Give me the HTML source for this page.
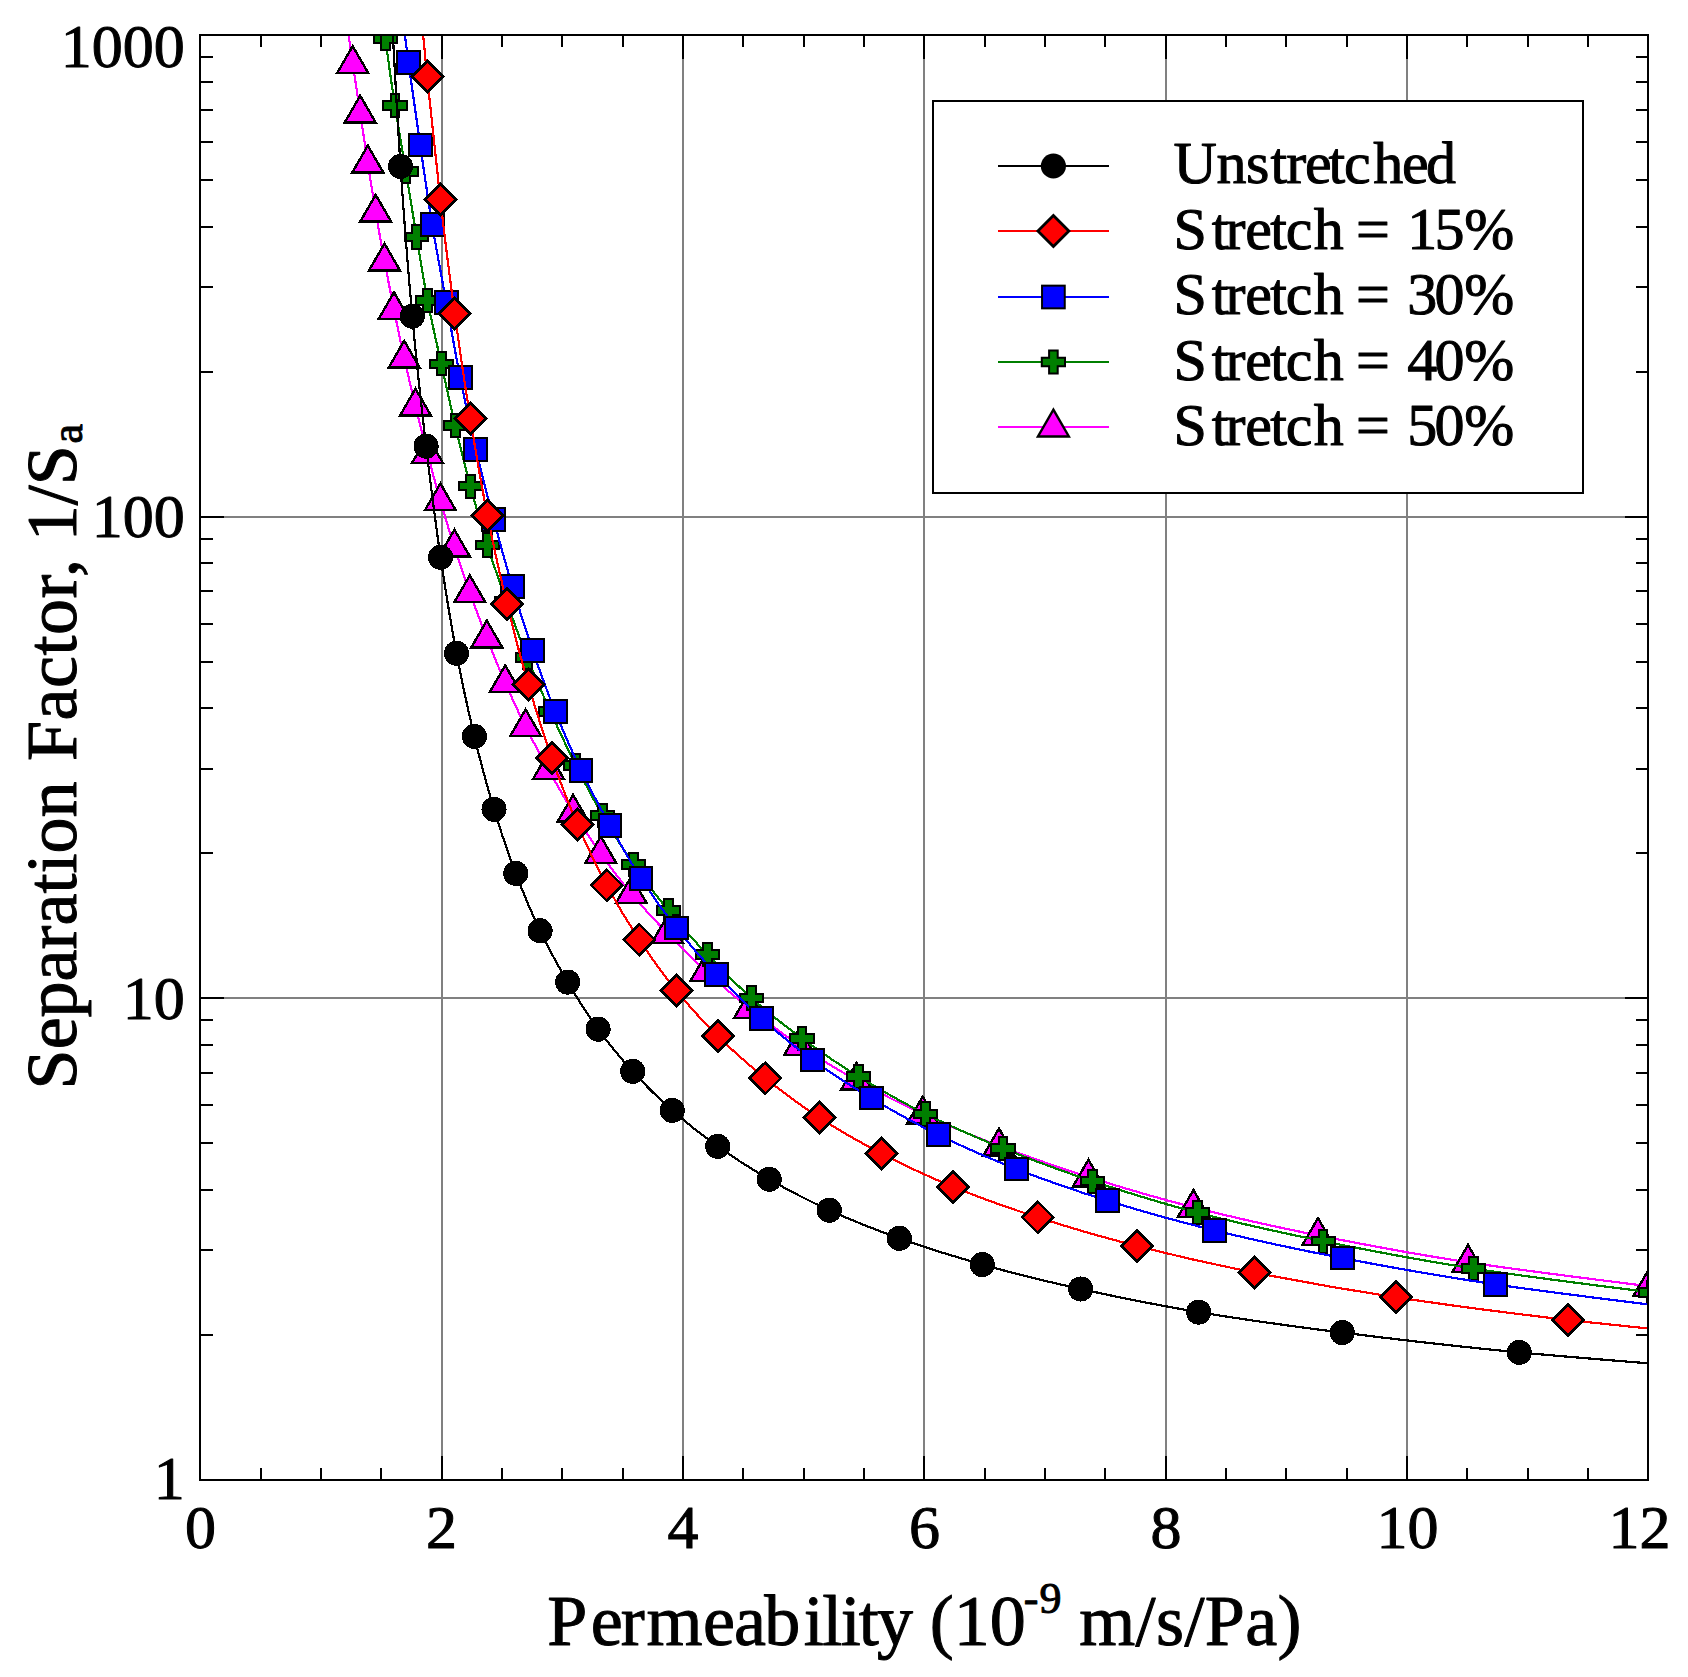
<!DOCTYPE html>
<html lang="en"><head><meta charset="utf-8"><title>Separation Factor vs Permeability</title>
<style>html,body{margin:0;padding:0;background:#fff;overflow:hidden}svg{display:block}text{font-family:"Liberation Serif","Times New Roman",Times,serif;fill:#000;stroke:#000;stroke-width:1px;stroke-linejoin:round}</style>
</head><body>
<svg width="1688" height="1677" viewBox="0 0 1688 1677">
<rect x="0" y="0" width="1688" height="1677" fill="#fff"/>
<defs>
<clipPath id="plotclip"><rect x="200" y="35" width="1448" height="1445"/></clipPath>
<circle id="m-blk" r="12.55" fill="#000"/>
<path id="m-red" d="M0 -15.5 L15.5 0 L0 15.5 L-15.5 0 Z" fill="#ff0000" stroke="#000" stroke-width="2.8" stroke-linejoin="miter"/>
<rect id="m-blu" x="-11.35" y="-11.35" width="22.7" height="22.7" fill="#0000ff" stroke="#000" stroke-width="2.0"/>
<path id="m-grn" d="M-4.3 -11.6 H4.3 V-4.3 H11.6 V4.3 H4.3 V11.6 H-4.3 V4.3 H-11.6 V-4.3 H-4.3 Z" fill="#007f00" stroke="#000" stroke-width="2.0" stroke-linejoin="miter"/>
<path id="m-mag" d="M0 -17.3 L15.47 9.5 L-15.47 9.5 Z" fill="#ff00ff" stroke="#000" stroke-width="2.4" stroke-linejoin="miter"/>
</defs>
<g stroke="#808080" stroke-width="2" fill="none" shape-rendering="crispEdges">
<line x1="442" y1="35" x2="442" y2="1480"/>
<line x1="683" y1="35" x2="683" y2="1480"/>
<line x1="924" y1="35" x2="924" y2="1480"/>
<line x1="1166" y1="35" x2="1166" y2="1480"/>
<line x1="1407" y1="35" x2="1407" y2="1480"/>
<line x1="200" y1="998" x2="1648" y2="998"/>
<line x1="200" y1="517" x2="1648" y2="517"/>
</g>
<g clip-path="url(#plotclip)" shape-rendering="crispEdges">
<g>
<path d="M345.5 13C346.7 21.4 350.25 46.73 352.7 63.4C355.15 80.07 357.68 96.42 360.2 113C362.72 129.58 365.22 146.38 367.8 162.9C370.38 179.42 372.92 195.77 375.7 212.1C378.48 228.43 381.45 244.65 384.5 260.9C387.55 277.15 390.72 293.4 394 309.6C397.28 325.8 400.62 342.03 404.2 358.1C407.78 374.17 411.62 390.1 415.5 406C419.38 421.9 423.35 437.7 427.5 453.5C431.65 469.3 435.92 485.22 440.4 500.8C444.88 516.38 449.5 531.7 454.4 547C459.3 562.3 464.4 577.45 469.8 592.6C475.2 607.75 480.9 622.88 486.8 637.9C492.7 652.92 498.73 667.9 505.2 682.7C511.67 697.5 518.38 712.22 525.6 726.7C532.82 741.18 540.58 755.37 548.5 769.6C556.42 783.83 564.38 798.1 573.1 812.1C581.82 826.1 591.1 839.98 600.8 853.6C610.5 867.22 620.22 880.53 631.3 893.8C642.38 907.07 654.85 920.27 667.3 933.2C679.75 946.13 692.28 958.85 706 971.4C719.72 983.95 733.98 996.13 749.6 1008.5C765.22 1020.87 781.87 1033.65 799.7 1045.6C817.53 1057.55 836.1 1068.82 856.6 1080.2C877.1 1091.58 898.97 1102.97 922.7 1113.9C946.43 1124.83 971.38 1135.28 999 1145.8C1026.62 1156.32 1056 1166.75 1088.4 1177C1120.8 1187.25 1155.13 1197.57 1193.4 1207.3C1231.67 1217.03 1272.23 1226.23 1318 1235.4C1363.77 1244.57 1412.83 1253.82 1468 1262.3C1523.17 1270.78 1618.83 1282.3 1649 1286.3" fill="none" stroke="#ff00ff" stroke-width="2.2"/>
<use href="#m-mag" x="345.5" y="13"/>
<use href="#m-mag" x="352.7" y="63.4"/>
<use href="#m-mag" x="360.2" y="113"/>
<use href="#m-mag" x="367.8" y="162.9"/>
<use href="#m-mag" x="375.7" y="212.1"/>
<use href="#m-mag" x="384.5" y="260.9"/>
<use href="#m-mag" x="394" y="309.6"/>
<use href="#m-mag" x="404.2" y="358.1"/>
<use href="#m-mag" x="415.5" y="406"/>
<use href="#m-mag" x="427.5" y="453.5"/>
<use href="#m-mag" x="440.4" y="500.8"/>
<use href="#m-mag" x="454.4" y="547"/>
<use href="#m-mag" x="469.8" y="592.6"/>
<use href="#m-mag" x="486.8" y="637.9"/>
<use href="#m-mag" x="505.2" y="682.7"/>
<use href="#m-mag" x="525.6" y="726.7"/>
<use href="#m-mag" x="548.5" y="769.6"/>
<use href="#m-mag" x="573.1" y="812.1"/>
<use href="#m-mag" x="600.8" y="853.6"/>
<use href="#m-mag" x="631.3" y="893.8"/>
<use href="#m-mag" x="667.3" y="933.2"/>
<use href="#m-mag" x="706" y="971.4"/>
<use href="#m-mag" x="749.6" y="1008.5"/>
<use href="#m-mag" x="799.7" y="1045.6"/>
<use href="#m-mag" x="856.6" y="1080.2"/>
<use href="#m-mag" x="922.7" y="1113.9"/>
<use href="#m-mag" x="999" y="1145.8"/>
<use href="#m-mag" x="1088.4" y="1177"/>
<use href="#m-mag" x="1193.4" y="1207.3"/>
<use href="#m-mag" x="1318" y="1235.4"/>
<use href="#m-mag" x="1468" y="1262.3"/>
<use href="#m-mag" x="1649" y="1286.3"/>
</g>
<g>
<path d="M376.3 -29.5C377.8 -18.17 382.2 16 385.3 38.5C388.4 61 391.47 83.35 394.9 105.5C398.33 127.65 402.28 149.48 405.9 171.4C409.52 193.32 413 215.5 416.6 237C420.2 258.5 423.38 279.25 427.5 300.4C431.62 321.55 436.68 343.08 441.3 363.9C445.92 384.72 450.35 404.93 455.2 425.3C460.05 445.67 465.05 466.15 470.4 486.1C475.75 506.05 481.28 525.77 487.3 545C493.32 564.23 499.82 582.72 506.5 601.5C513.18 620.28 520.07 639.33 527.4 657.7C534.73 676.07 542.42 693.77 550.5 711.7C558.58 729.63 567.22 748.03 575.9 765.3C584.58 782.57 593 798.8 602.6 815.3C612.2 831.8 622.57 848.43 633.5 864.3C644.43 880.17 655.9 895.47 668.2 910.5C680.5 925.53 693.42 939.9 707.3 954.5C721.18 969.1 735.7 984.1 751.5 998.1C767.3 1012.1 784.23 1025.4 802.1 1038.5C819.97 1051.6 838.13 1064.12 858.7 1076.7C879.27 1089.28 901.45 1102.07 925.5 1114C949.55 1125.93 975.17 1137.1 1003 1148.3C1030.83 1159.5 1060.05 1170.47 1092.5 1181.2C1124.95 1191.93 1159.25 1202.7 1197.7 1212.7C1236.15 1222.7 1277.23 1231.88 1323.2 1241.2C1369.17 1250.52 1418.87 1260.07 1473.5 1268.6C1528.13 1277.13 1621.42 1288.43 1651 1292.4" fill="none" stroke="#007f00" stroke-width="2.2"/>
<use href="#m-grn" x="385.3" y="38.5"/>
<use href="#m-grn" x="394.9" y="105.5"/>
<use href="#m-grn" x="405.9" y="171.4"/>
<use href="#m-grn" x="416.6" y="237"/>
<use href="#m-grn" x="427.5" y="300.4"/>
<use href="#m-grn" x="441.3" y="363.9"/>
<use href="#m-grn" x="455.2" y="425.3"/>
<use href="#m-grn" x="470.4" y="486.1"/>
<use href="#m-grn" x="487.3" y="545"/>
<use href="#m-grn" x="506.5" y="601.5"/>
<use href="#m-grn" x="527.4" y="657.7"/>
<use href="#m-grn" x="550.5" y="711.7"/>
<use href="#m-grn" x="575.9" y="765.3"/>
<use href="#m-grn" x="602.6" y="815.3"/>
<use href="#m-grn" x="633.5" y="864.3"/>
<use href="#m-grn" x="668.2" y="910.5"/>
<use href="#m-grn" x="707.3" y="954.5"/>
<use href="#m-grn" x="751.5" y="998.1"/>
<use href="#m-grn" x="802.1" y="1038.5"/>
<use href="#m-grn" x="858.7" y="1076.7"/>
<use href="#m-grn" x="925.5" y="1114"/>
<use href="#m-grn" x="1003" y="1148.3"/>
<use href="#m-grn" x="1092.5" y="1181.2"/>
<use href="#m-grn" x="1197.7" y="1212.7"/>
<use href="#m-grn" x="1323.2" y="1241.2"/>
<use href="#m-grn" x="1473.5" y="1268.6"/>
<use href="#m-grn" x="1651" y="1292.4"/>
</g>
<g>
<path d="M397.5 -22.4C399.33 -8.23 404.72 34.7 408.5 62.6C412.28 90.5 416.25 118 420.2 145C424.15 172 427.85 198.4 432.2 224.6C436.55 250.8 441.63 276.75 446.3 302.2C450.97 327.65 455.28 352.77 460.2 377.3C465.12 401.83 470.22 425.68 475.8 449.4C481.38 473.12 487.62 496.8 493.7 519.6C499.78 542.4 505.8 564.4 512.3 586.2C518.8 608 525.53 629.48 532.7 650.4C539.87 671.32 547.25 691.7 555.3 711.7C563.35 731.7 571.88 751.43 581 770.4C590.12 789.37 600 807.5 610 825.5C620 843.5 629.93 861.33 641 878.4C652.07 895.47 663.8 911.9 676.4 927.9C689 943.9 702.42 959.32 716.6 974.4C730.78 989.48 745.5 1004.15 761.5 1018.4C777.5 1032.65 794.32 1046.62 812.6 1059.9C830.88 1073.18 850.25 1085.62 871.2 1098.1C892.15 1110.58 914.1 1122.98 938.3 1134.8C962.5 1146.62 988.2 1158.02 1016.4 1169C1044.6 1179.98 1074.43 1190.45 1107.5 1200.7C1140.57 1210.95 1175.67 1220.93 1214.8 1230.5C1253.93 1240.07 1295.53 1249.12 1342.3 1258.1C1389.07 1267.08 1439.12 1276.02 1495.4 1284.4C1551.68 1292.78 1649.23 1304.4 1680 1308.4" fill="none" stroke="#0000ff" stroke-width="2.2"/>
<use href="#m-blu" x="408.5" y="62.6"/>
<use href="#m-blu" x="420.2" y="145"/>
<use href="#m-blu" x="432.2" y="224.6"/>
<use href="#m-blu" x="446.3" y="302.2"/>
<use href="#m-blu" x="460.2" y="377.3"/>
<use href="#m-blu" x="475.8" y="449.4"/>
<use href="#m-blu" x="493.7" y="519.6"/>
<use href="#m-blu" x="512.3" y="586.2"/>
<use href="#m-blu" x="532.7" y="650.4"/>
<use href="#m-blu" x="555.3" y="711.7"/>
<use href="#m-blu" x="581" y="770.4"/>
<use href="#m-blu" x="610" y="825.5"/>
<use href="#m-blu" x="641" y="878.4"/>
<use href="#m-blu" x="676.4" y="927.9"/>
<use href="#m-blu" x="716.6" y="974.4"/>
<use href="#m-blu" x="761.5" y="1018.4"/>
<use href="#m-blu" x="812.6" y="1059.9"/>
<use href="#m-blu" x="871.2" y="1098.1"/>
<use href="#m-blu" x="938.3" y="1134.8"/>
<use href="#m-blu" x="1016.4" y="1169"/>
<use href="#m-blu" x="1107.5" y="1200.7"/>
<use href="#m-blu" x="1214.8" y="1230.5"/>
<use href="#m-blu" x="1342.3" y="1258.1"/>
<use href="#m-blu" x="1495.4" y="1284.4"/>
</g>
<g>
<path d="M414.9 -55C416.93 -33.08 422.87 34.12 427.1 76.5C431.33 118.88 435.7 159.8 440.3 199.3C444.9 238.8 449.68 276.92 454.7 313.5C459.72 350.08 464.95 385.15 470.4 418.8C475.85 452.45 481.3 484.53 487.4 515.4C493.5 546.27 500.17 575.82 507 604C513.83 632.18 520.95 658.85 528.4 684.5C535.85 710.15 543.52 734.58 551.7 757.9C559.88 781.22 568.33 803.18 577.5 824.4C586.67 845.62 596.42 865.98 606.7 885.2C616.98 904.42 627.6 922.15 639.2 939.7C650.8 957.25 663.17 974.4 676.3 990.5C689.43 1006.6 703.17 1021.68 718 1036.3C732.83 1050.92 748.43 1064.67 765.3 1078.2C782.17 1091.73 799.83 1104.95 819.2 1117.5C838.57 1130.05 859.15 1141.93 881.5 1153.5C903.85 1165.07 927.23 1176.25 953.3 1186.9C979.37 1197.55 1007.3 1207.55 1037.9 1217.4C1068.5 1227.25 1100.85 1236.82 1136.9 1246C1172.95 1255.18 1211.02 1263.95 1254.2 1272.5C1297.38 1281.05 1343.75 1289.4 1396 1297.3C1448.25 1305.2 1504.53 1312.62 1567.7 1319.9C1630.87 1327.18 1740.45 1337.48 1775 1341" fill="none" stroke="#ff0000" stroke-width="2.2"/>
<use href="#m-red" x="427.1" y="76.5"/>
<use href="#m-red" x="440.3" y="199.3"/>
<use href="#m-red" x="454.7" y="313.5"/>
<use href="#m-red" x="470.4" y="418.8"/>
<use href="#m-red" x="487.4" y="515.4"/>
<use href="#m-red" x="507" y="604"/>
<use href="#m-red" x="528.4" y="684.5"/>
<use href="#m-red" x="551.7" y="757.9"/>
<use href="#m-red" x="577.5" y="824.4"/>
<use href="#m-red" x="606.7" y="885.2"/>
<use href="#m-red" x="639.2" y="939.7"/>
<use href="#m-red" x="676.3" y="990.5"/>
<use href="#m-red" x="718" y="1036.3"/>
<use href="#m-red" x="765.3" y="1078.2"/>
<use href="#m-red" x="819.2" y="1117.5"/>
<use href="#m-red" x="881.5" y="1153.5"/>
<use href="#m-red" x="953.3" y="1186.9"/>
<use href="#m-red" x="1037.9" y="1217.4"/>
<use href="#m-red" x="1136.9" y="1246"/>
<use href="#m-red" x="1254.2" y="1272.5"/>
<use href="#m-red" x="1396" y="1297.3"/>
<use href="#m-red" x="1567.7" y="1319.9"/>
</g>
<g>
<path d="M390.6 -6C392.25 22.73 396.88 112.7 400.5 166.4C404.12 220.1 408.03 269.57 412.3 316.2C416.57 362.83 421.38 406.02 426.1 446.2C430.82 486.38 435.53 522.8 440.6 557.3C445.67 591.8 450.87 623.35 456.5 653.2C462.13 683.05 468.15 710.38 474.4 736.4C480.65 762.42 487.1 786.47 494 809.3C500.9 832.13 508.12 853.15 515.8 873.4C523.48 893.65 531.45 912.68 540.1 930.8C548.75 948.92 558.03 965.7 567.7 982.1C577.37 998.5 587.27 1014.32 598.1 1029.2C608.93 1044.08 620.35 1057.87 632.7 1071.4C645.05 1084.93 658.03 1097.9 672.2 1110.4C686.37 1122.9 701.53 1134.92 717.7 1146.4C733.87 1157.88 750.6 1168.67 769.2 1179.3C787.8 1189.93 807.62 1200.37 829.3 1210.2C850.98 1220.03 873.8 1229.23 899.3 1238.3C924.8 1247.37 952.08 1256.15 982.3 1264.6C1012.52 1273.05 1044.55 1281.08 1080.6 1289C1116.65 1296.92 1154.98 1304.83 1198.6 1312.1C1242.22 1319.37 1288.85 1325.88 1342.3 1332.6C1395.75 1339.32 1453.02 1346.07 1519.3 1352.4C1585.58 1358.73 1703.22 1367.57 1740 1370.6" fill="none" stroke="#000000" stroke-width="2.2"/>
<use href="#m-blk" x="390.6" y="-6"/>
<use href="#m-blk" x="400.5" y="166.4"/>
<use href="#m-blk" x="412.3" y="316.2"/>
<use href="#m-blk" x="426.1" y="446.2"/>
<use href="#m-blk" x="440.6" y="557.3"/>
<use href="#m-blk" x="456.5" y="653.2"/>
<use href="#m-blk" x="474.4" y="736.4"/>
<use href="#m-blk" x="494" y="809.3"/>
<use href="#m-blk" x="515.8" y="873.4"/>
<use href="#m-blk" x="540.1" y="930.8"/>
<use href="#m-blk" x="567.7" y="982.1"/>
<use href="#m-blk" x="598.1" y="1029.2"/>
<use href="#m-blk" x="632.7" y="1071.4"/>
<use href="#m-blk" x="672.2" y="1110.4"/>
<use href="#m-blk" x="717.7" y="1146.4"/>
<use href="#m-blk" x="769.2" y="1179.3"/>
<use href="#m-blk" x="829.3" y="1210.2"/>
<use href="#m-blk" x="899.3" y="1238.3"/>
<use href="#m-blk" x="982.3" y="1264.6"/>
<use href="#m-blk" x="1080.6" y="1289"/>
<use href="#m-blk" x="1198.6" y="1312.1"/>
<use href="#m-blk" x="1342.3" y="1332.6"/>
<use href="#m-blk" x="1519.3" y="1352.4"/>
</g>
</g>
<g stroke="#000" stroke-width="2" fill="none" stroke-linecap="butt" shape-rendering="crispEdges">
<rect x="200" y="35" width="1448" height="1445" stroke-linejoin="miter"/>
<path d="M261 1480 v-12 M261 35 v12M321 1480 v-12 M321 35 v12M381 1480 v-12 M381 35 v12M442 1480 v-24 M442 35 v24M502 1480 v-12 M502 35 v12M562 1480 v-12 M562 35 v12M623 1480 v-12 M623 35 v12M683 1480 v-24 M683 35 v24M743 1480 v-12 M743 35 v12M804 1480 v-12 M804 35 v12M864 1480 v-12 M864 35 v12M924 1480 v-24 M924 35 v24M985 1480 v-12 M985 35 v12M1045 1480 v-12 M1045 35 v12M1105 1480 v-12 M1105 35 v12M1166 1480 v-24 M1166 35 v24M1226 1480 v-12 M1226 35 v12M1286 1480 v-12 M1286 35 v12M1347 1480 v-12 M1347 35 v12M1407 1480 v-24 M1407 35 v24M1467 1480 v-12 M1467 35 v12M1528 1480 v-12 M1528 35 v12M1588 1480 v-12 M1588 35 v12M200 1335 h13 M1648 1335 h-12M200 1250 h13 M1648 1250 h-12M200 1190 h13 M1648 1190 h-12M200 1143 h13 M1648 1143 h-12M200 1105 h13 M1648 1105 h-12M200 1073 h13 M1648 1073 h-12M200 1045 h13 M1648 1045 h-12M200 1020 h13 M1648 1020 h-12M200 998 h24 M1648 998 h-23M200 853 h13 M1648 853 h-12M200 769 h13 M1648 769 h-12M200 708 h13 M1648 708 h-12M200 662 h13 M1648 662 h-12M200 624 h13 M1648 624 h-12M200 591 h13 M1648 591 h-12M200 563 h13 M1648 563 h-12M200 539 h13 M1648 539 h-12M200 517 h24 M1648 517 h-23M200 372 h13 M1648 372 h-12M200 287 h13 M1648 287 h-12M200 227 h13 M1648 227 h-12M200 180 h13 M1648 180 h-12M200 142 h13 M1648 142 h-12M200 110 h13 M1648 110 h-12M200 82 h13 M1648 82 h-12M200 57 h13 M1648 57 h-12"/>
</g>
<g font-size="62px">
<text x="200.6" y="1548.3" text-anchor="middle">0</text>
<text x="441.5" y="1548.3" text-anchor="middle">2</text>
<text x="683" y="1548.3" text-anchor="middle">4</text>
<text x="924.5" y="1548.3" text-anchor="middle">6</text>
<text x="1166" y="1548.3" text-anchor="middle">8</text>
<text x="1407.5" y="1548.3" text-anchor="middle">10</text>
<text x="1639.5" y="1548.3" text-anchor="middle">12</text>
<text x="184.7" y="67.3" text-anchor="end">1000</text>
<text x="184.7" y="537" text-anchor="end">100</text>
<text x="184.7" y="1018.9" text-anchor="end">10</text>
<text x="184.7" y="1499.4" text-anchor="end">1</text>
</g>
<text x="547.2" y="1645" font-size="72px"><tspan dx="0 3.6 -2.1 1.7 0.5 -0.8 -1.8 3.5 -1.5 -1.6 -1.9 -1.8">Permeability</tspan><tspan dx="-1.2"> (10</tspan><tspan font-size="44px" dy="-32.3" dx="-2">-</tspan><tspan font-size="44px" dx="1">9</tspan><tspan dy="32.3" dx="-0.7" letter-spacing="0.4"> m/s/Pa)</tspan></text>
<text transform="translate(75.7 1089.4) rotate(-90)" font-size="72px">Separation <tspan dx="2.5" letter-spacing="0.5">Factor,</tspan> <tspan dx="-0.7">1/S</tspan><tspan font-size="44px" dy="6.6" dx="1.7">a</tspan></text>
<rect x="933" y="101" width="650" height="392" fill="#fff" stroke="#000" stroke-width="2" shape-rendering="crispEdges"/>
<line x1="998" y1="166" x2="1109" y2="166" stroke="#000000" stroke-width="2.0" shape-rendering="crispEdges"/>
<use href="#m-blk" x="1053.4" y="166"/>
<text x="1175.5" y="183.2" dx="-2 -0.4 -0.4 1.1 -1.0 -1.1 -3.1 -1.3 2.7 -1.3 -2.6" font-size="60px">Unstretched</text>
<line x1="998" y1="231" x2="1109" y2="231" stroke="#ff0000" stroke-width="2.0" shape-rendering="crispEdges"/>
<use href="#m-red" x="1053.4" y="231"/>
<text x="1175.5" y="248.6" dx="-2 4.9 -2.9 -0.2 -1.7 -1.3 1.4 0 -2.6 0 2.2 -2.7 -0.3" font-size="60px">Stretch = 15%</text>
<line x1="998" y1="297" x2="1109" y2="297" stroke="#0000ff" stroke-width="2.0" shape-rendering="crispEdges"/>
<use href="#m-blu" x="1053.4" y="297"/>
<text x="1175.5" y="314.3" dx="-2 4.9 -2.9 -0.2 -1.7 -1.3 1.4 0 -2.6 0 2.2 -2.7 -0.3" font-size="60px">Stretch = 30%</text>
<line x1="998" y1="362" x2="1109" y2="362" stroke="#007f00" stroke-width="2.0" shape-rendering="crispEdges"/>
<use href="#m-grn" x="1053.4" y="362"/>
<text x="1175.5" y="379.6" dx="-2 4.9 -2.9 -0.2 -1.7 -1.3 1.4 0 -2.6 0 2.2 -2.7 -0.3" font-size="60px">Stretch = 40%</text>
<line x1="998" y1="427" x2="1109" y2="427" stroke="#ff00ff" stroke-width="2.0" shape-rendering="crispEdges"/>
<use href="#m-mag" x="1053.4" y="427"/>
<text x="1175.5" y="444.6" dx="-2 4.9 -2.9 -0.2 -1.7 -1.3 1.4 0 -2.6 0 2.2 -2.7 -0.3" font-size="60px">Stretch = 50%</text>
</svg>
</body></html>
